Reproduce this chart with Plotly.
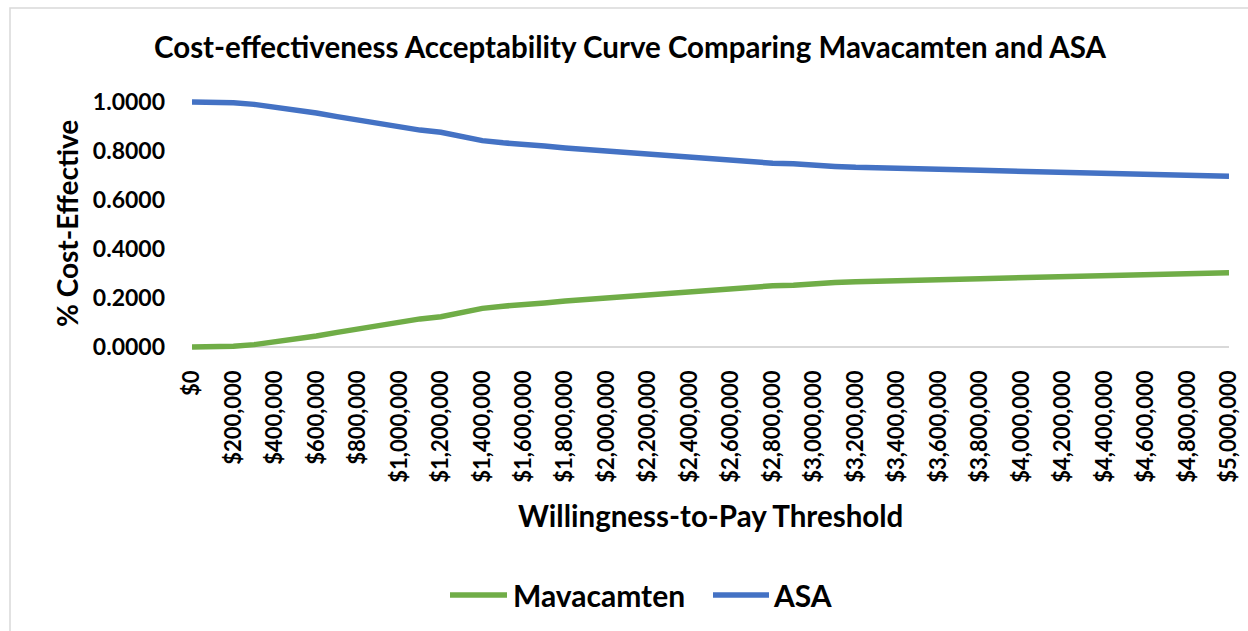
import plotly.graph_objects as go

# Willingness-to-pay thresholds, $100,000 steps from $0 to $5,000,000
wtp = [i * 100000 for i in range(51)]

mavacamten = [
    0.000, 0.000, 0.003, 0.010, 0.020, 0.030, 0.045, 0.060, 0.075, 0.090,
    0.100, 0.115, 0.124, 0.142, 0.158, 0.167, 0.172, 0.180, 0.188, 0.194,
    0.200, 0.210, 0.216, 0.219, 0.223, 0.229, 0.238, 0.246, 0.250, 0.252,
    0.259, 0.263, 0.267, 0.270, 0.270, 0.273, 0.275, 0.277, 0.279, 0.281,
    0.284, 0.287, 0.289, 0.292, 0.293, 0.294, 0.295, 0.297, 0.300, 0.302,
    0.303,
]

asa = [
    1.000, 1.000, 0.997, 0.990, 0.980, 0.970, 0.955, 0.940, 0.925, 0.910,
    0.900, 0.885, 0.876, 0.858, 0.842, 0.833, 0.828, 0.820, 0.812, 0.806,
    0.800, 0.790, 0.784, 0.781, 0.777, 0.771, 0.762, 0.754, 0.750, 0.748,
    0.741, 0.737, 0.733, 0.730, 0.730, 0.727, 0.725, 0.723, 0.721, 0.719,
    0.716, 0.713, 0.711, 0.708, 0.707, 0.706, 0.705, 0.703, 0.700, 0.698,
    0.697,
]

x_tick_vals = [i * 200000 for i in range(26)]
x_tick_text = ["$" + format(v, ",") for v in x_tick_vals]
y_tick_vals = [0.0, 0.2, 0.4, 0.6, 0.8, 1.0]
y_tick_text = ["%.4f" % v for v in y_tick_vals]

GREEN = "#70AD47"
BLUE = "#4472C4"
FONT = "Lato"

W, H = 1248, 631
L, R = 192, 19
T, B = 97, 279
PW, PH = W - L - R, H - T - B


def px_x(x):
    return (x - L) / PW


def px_y(y):
    return (H - B - y) / PH


fig = go.Figure()
fig.add_trace(go.Scatter(x=wtp, y=mavacamten, mode="lines", name="Mavacamten",
                         line=dict(color=GREEN, width=5.5), showlegend=False))
fig.add_trace(go.Scatter(x=wtp, y=asa, mode="lines", name="ASA",
                         line=dict(color=BLUE, width=5.5), showlegend=False))

fig.update_layout(
    width=W, height=H,
    margin=dict(l=L, r=R, t=T, b=B, autoexpand=False),
    paper_bgcolor="white", plot_bgcolor="white",
    font=dict(family=FONT, color="black"),
    xaxis=dict(range=[0, 5000000], tickvals=x_tick_vals, ticktext=x_tick_text,
               tickangle=-90, tickfont=dict(size=22, family=FONT, weight="bold"),
               showgrid=False, zeroline=False, showline=False, ticks="",
               ticklabelstandoff=13),
    yaxis=dict(range=[-0.02, 1.02], tickvals=y_tick_vals, ticktext=y_tick_text,
               tickfont=dict(size=23, family=FONT, weight="bold"),
               showgrid=False, zeroline=True, zerolinecolor="#D9D9D9",
               zerolinewidth=1.5, showline=False, ticks="",
               ticklabelstandoff=26),
)

# Chart frame
fig.add_shape(type="rect", xref="paper", yref="paper",
              x0=px_x(10), x1=px_x(1262), y0=px_y(8), y1=px_y(650),
              line=dict(color="#D9D9D9", width=1.5), fillcolor="rgba(0,0,0,0)",
              layer="below")


def label(text, x, y, size, angle=0, xanchor="center"):
    fig.add_annotation(text="<b>" + text + "</b>", xref="paper", yref="paper",
                       x=px_x(x), y=px_y(y), xanchor=xanchor, yanchor="middle",
                       showarrow=False, textangle=angle,
                       font=dict(size=size, family=FONT))


# Title and axis titles
label("Cost-effectiveness Acceptability Curve Comparing Mavacamten and ASA", 630, 46, 29.5)
label("Willingness-to-Pay Threshold", 710, 515, 29.5)
label("% Cost-Effective", 67, 224, 28, angle=-90)

# Legend
legend_items = [("Mavacamten", GREEN, 450, 507, 511), ("ASA", BLUE, 713, 769, 771)]
for name, color, lx0, lx1, tx in legend_items:
    fig.add_shape(type="line", xref="paper", yref="paper",
                  x0=px_x(lx0), x1=px_x(lx1), y0=px_y(595), y1=px_y(595),
                  line=dict(color=color, width=5.5))
    label(name, tx, 595, 30, xanchor="left")

fig.write_html("out.html")
